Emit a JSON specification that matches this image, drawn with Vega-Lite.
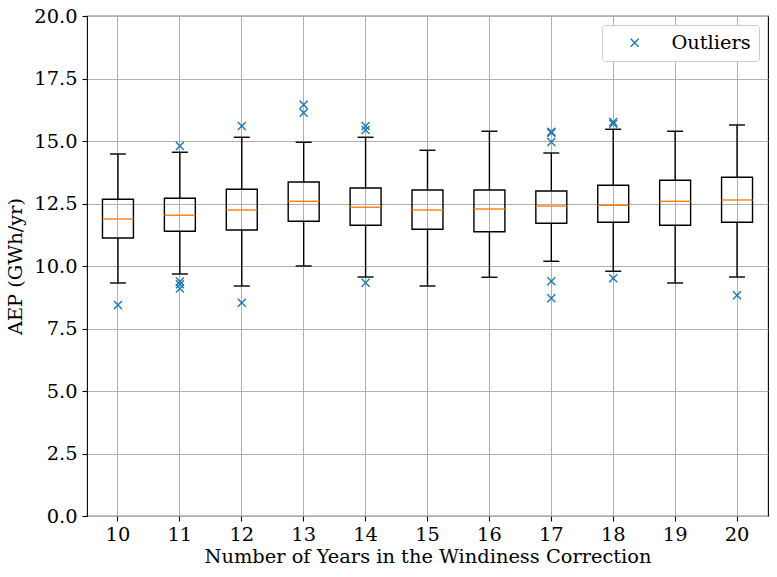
{
  "$schema": "https://vega.github.io/schema/vega-lite/v6.json",
  "width": 681,
  "height": 500,
  "autosize": {"type": "none"},
  "padding": {"left": 87, "top": 16, "right": 9, "bottom": 61},
  "background": "white",
  "config": {
    "font": "DejaVu Serif",
    "view": {"stroke": "black", "strokeWidth": 1.1},
    "axis": {
      "labelFont": "DejaVu Serif",
      "titleFont": "DejaVu Serif",
      "labelFontSize": 19.4,
      "titleFontSize": 19.4,
      "titleFontWeight": "normal",
      "labelColor": "black",
      "titleColor": "black",
      "domain": false,
      "tickColor": "black",
      "tickSize": 5,
      "tickWidth": 1.1,
      "grid": true,
      "gridColor": "#b0b0b0",
      "gridWidth": 1
    },
    "legend": {
      "labelFont": "DejaVu Serif",
      "labelFontSize": 19.4,
      "labelColor": "black"
    }
  },
  "datasets": {
    "boxes": [
      {"year": 10, "lo": 9.32, "q1": 11.12, "med": 11.88, "q3": 12.67, "hi": 14.48},
      {"year": 11, "lo": 9.68, "q1": 11.39, "med": 12.03, "q3": 12.71, "hi": 14.55},
      {"year": 12, "lo": 9.2, "q1": 11.44, "med": 12.24, "q3": 13.07, "hi": 15.15},
      {"year": 13, "lo": 10.0, "q1": 11.79, "med": 12.59, "q3": 13.36, "hi": 14.95},
      {"year": 14, "lo": 9.56, "q1": 11.63, "med": 12.35, "q3": 13.12, "hi": 15.15},
      {"year": 15, "lo": 9.2, "q1": 11.47, "med": 12.24, "q3": 13.04, "hi": 14.63},
      {"year": 16, "lo": 9.55, "q1": 11.37, "med": 12.28, "q3": 13.04, "hi": 15.39},
      {"year": 17, "lo": 10.19, "q1": 11.71, "med": 12.4, "q3": 13.0, "hi": 14.52},
      {"year": 18, "lo": 9.79, "q1": 11.75, "med": 12.43, "q3": 13.23, "hi": 15.47},
      {"year": 19, "lo": 9.32, "q1": 11.63, "med": 12.59, "q3": 13.43, "hi": 15.39},
      {"year": 20, "lo": 9.56, "q1": 11.75, "med": 12.64, "q3": 13.55, "hi": 15.64}
    ],
    "outliers": [
      {"year": 10, "value": 8.44, "kind": "Outliers"},
      {"year": 11, "value": 14.8, "kind": "Outliers"},
      {"year": 11, "value": 9.38, "kind": "Outliers"},
      {"year": 11, "value": 9.27, "kind": "Outliers"},
      {"year": 11, "value": 9.1, "kind": "Outliers"},
      {"year": 12, "value": 15.6, "kind": "Outliers"},
      {"year": 12, "value": 8.53, "kind": "Outliers"},
      {"year": 13, "value": 16.45, "kind": "Outliers"},
      {"year": 13, "value": 16.13, "kind": "Outliers"},
      {"year": 14, "value": 15.6, "kind": "Outliers"},
      {"year": 14, "value": 15.44, "kind": "Outliers"},
      {"year": 14, "value": 9.33, "kind": "Outliers"},
      {"year": 17, "value": 15.37, "kind": "Outliers"},
      {"year": 17, "value": 15.33, "kind": "Outliers"},
      {"year": 17, "value": 14.96, "kind": "Outliers"},
      {"year": 17, "value": 9.39, "kind": "Outliers"},
      {"year": 17, "value": 8.71, "kind": "Outliers"},
      {"year": 18, "value": 15.76, "kind": "Outliers"},
      {"year": 18, "value": 15.69, "kind": "Outliers"},
      {"year": 18, "value": 9.51, "kind": "Outliers"},
      {"year": 20, "value": 8.83, "kind": "Outliers"}
    ]
  },
  "encoding": {
    "x": {
      "field": "year",
      "type": "ordinal",
      "scale": {"paddingInner": 0, "paddingOuter": 0},
      "axis": {
        "title": "Number of Years in the Windiness Correction",
        "labelAngle": 0,
        "labelPadding": 4,
        "titlePadding": 4,
        "bandPosition": 0.5
      }
    }
  },
  "layer": [
    {
      "data": {"name": "boxes"},
      "mark": {"type": "rule", "color": "black", "strokeWidth": 1.4},
      "encoding": {
        "y": {
          "field": "lo",
          "type": "quantitative",
          "scale": {"domain": [0, 20], "nice": false, "zero": true},
          "axis": {
            "title": "AEP (GWh/yr)",
            "values": [0, 2.5, 5, 7.5, 10, 12.5, 15, 17.5, 20],
            "format": ".1f",
            "labelPadding": 5,
            "titlePadding": 8
          }
        },
        "y2": {"field": "q1"}
      }
    },
    {
      "data": {"name": "boxes"},
      "mark": {"type": "rule", "color": "black", "strokeWidth": 1.4},
      "encoding": {
        "y": {"field": "q3", "type": "quantitative"},
        "y2": {"field": "hi"}
      }
    },
    {
      "data": {"name": "boxes"},
      "mark": {"type": "tick", "color": "black", "size": 16, "thickness": 1.4, "opacity": 1},
      "encoding": {"y": {"field": "lo", "type": "quantitative"}}
    },
    {
      "data": {"name": "boxes"},
      "mark": {"type": "tick", "color": "black", "size": 16, "thickness": 1.4, "opacity": 1},
      "encoding": {"y": {"field": "hi", "type": "quantitative"}}
    },
    {
      "data": {"name": "boxes"},
      "mark": {"type": "bar", "width": {"band": 0.5}, "fill": null, "fillOpacity": 0, "stroke": "black", "strokeWidth": 1.4},
      "encoding": {
        "y": {"field": "q1", "type": "quantitative"},
        "y2": {"field": "q3"}
      }
    },
    {
      "data": {"name": "boxes"},
      "mark": {"type": "tick", "color": "#ff7f0e", "size": 31, "thickness": 1.4, "opacity": 1},
      "encoding": {"y": {"field": "med", "type": "quantitative"}}
    },
    {
      "data": {"name": "outliers"},
      "mark": {
        "type": "point",
        "shape": "M-1,-1L1,1M-1,1L1,-1",
        "filled": false,
        "size": 64,
        "strokeWidth": 1.4,
        "opacity": 1
      },
      "encoding": {
        "y": {"field": "value", "type": "quantitative"},
        "color": {
          "field": "kind",
          "type": "nominal",
          "scale": {"range": ["#1f77b4"]},
          "legend": {
            "title": null,
            "orient": "top-right",
            "offset": 9,
            "padding": 8,
            "symbolOffset": 15,
            "labelOffset": 27,
            "symbolType": "M-1,-1L1,1M-1,1L1,-1",
            "symbolSize": 64,
            "symbolStrokeWidth": 1.4,
            "symbolStrokeColor": "#1f77b4",
            "strokeColor": "#cccccc",
            "fillColor": "white",
            "cornerRadius": 3
          }
        }
      }
    }
  ]
}
